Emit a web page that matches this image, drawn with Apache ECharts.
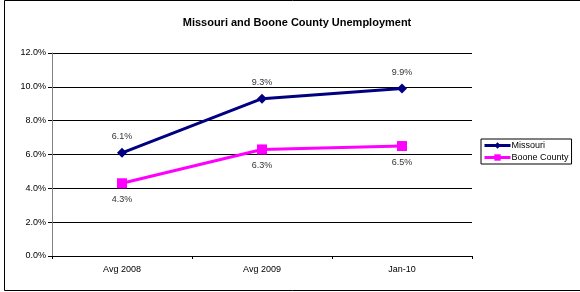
<!DOCTYPE html>
<html>
<head>
<meta charset="utf-8">
<script src="https://cdn.jsdelivr.net/npm/echarts@6/dist/echarts.min.js"></script>
<style>
  html, body { margin: 0; padding: 0; background: #fff; }
  #chart { width: 580px; height: 292px; }
</style>
</head>
<body>
<div id="chart"></div>
<script>
// chart data
const categories = ['Avg 2008', 'Avg 2009', 'Jan-10']
const missouri = [6.1, 9.3, 9.9]
const booneCounty = [4.3, 6.3, 6.5]
const yTicks = [0, 2, 4, 6, 8, 10, 12]

const font = 'Arial, "Liberation Sans", sans-serif'
const pct = v => v.toFixed(1) + '%'

const myChart = echarts.init(document.getElementById('chart'))
myChart.setOption({
  animation: false,
  backgroundColor: '#fff',
  title: {
    text: 'Missouri and Boone County Unemployment',
    left: 292,
    textAlign: 'center',
    top: 12,
    textStyle: { fontFamily: font, fontSize: 11, fontWeight: 'bold', color: '#000' }
  },
  graphic: [
    {
      type: 'rect',
      shape: { x: 4.5, y: 0.5, width: 580, height: 290 },
      style: { fill: 'none', stroke: '#000', lineWidth: 1 },
      silent: true
    }
  ],
  legend: {
    orient: 'vertical',
    left: 481,
    top: 139,
    padding: [2, 3, 2, 2],
    itemGap: 3,
    itemWidth: 26,
    itemHeight: 8,
    borderColor: '#000',
    borderWidth: 1,
    lineStyle: { width: 3 },
    textStyle: { fontFamily: font, fontSize: 9, color: '#000', padding: [0, 0, 0, -4] },
    data: ['Missouri', 'Boone County']
  },
  grid: { left: 52, right: 108, top: 53, bottom: 36 },
  xAxis: {
    type: 'category',
    data: categories,
    boundaryGap: true,
    axisLine: { lineStyle: { color: '#000', width: 1 } },
    axisTick: { show: true, length: 3, lineStyle: { color: '#000' } },
    axisLabel: { fontFamily: font, fontSize: 9, color: '#000', margin: 9 }
  },
  yAxis: {
    type: 'value',
    min: yTicks[0],
    max: yTicks[yTicks.length - 1],
    interval: 2,
    axisLine: { show: true, lineStyle: { color: '#808080', width: 1 } },
    axisTick: { show: true, length: 4, lineStyle: { color: '#000' } },
    splitLine: { lineStyle: { color: '#000', width: 1 } },
    axisLabel: { fontFamily: font, fontSize: 9, color: '#000', margin: 6, formatter: pct }
  },
  series: [
    {
      name: 'Missouri',
      type: 'line',
      data: missouri,
      symbol: 'diamond',
      symbolSize: 10,
      lineStyle: { color: '#000080', width: 3 },
      itemStyle: { color: '#000080' },
      label: {
        show: true,
        position: 'top',
        distance: 7,
        fontFamily: font,
        fontSize: 9,
        color: '#333',
        formatter: p => pct(p.value)
      }
    },
    {
      name: 'Boone County',
      type: 'line',
      data: booneCounty,
      symbol: 'rect',
      symbolSize: 10,
      lineStyle: { color: '#ff00ff', width: 3 },
      itemStyle: { color: '#ff00ff' },
      label: {
        show: true,
        position: 'bottom',
        distance: 7,
        fontFamily: font,
        fontSize: 9,
        color: '#333',
        formatter: p => pct(p.value)
      }
    }
  ]
})
</script>
</body>
</html>
